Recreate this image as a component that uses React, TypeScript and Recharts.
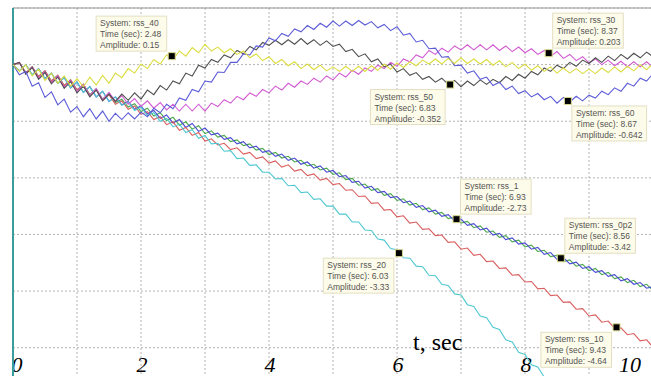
import { LineChart, Line, XAxis, YAxis, CartesianGrid, ReferenceLine, ReferenceDot, Customized } from 'recharts';

// time axis, sec
const TIME = [
  0, 0.1, 0.2, 0.3, 0.4, 0.5, 0.6, 0.7, 0.8, 0.9,
  1, 1.1, 1.2, 1.3, 1.4, 1.5, 1.6, 1.7, 1.8, 1.9,
  2, 2.1, 2.2, 2.3, 2.4, 2.5, 2.6, 2.7, 2.8, 2.9,
  3, 3.1, 3.2, 3.3, 3.4, 3.5, 3.6, 3.7, 3.8, 3.9,
  4, 4.1, 4.2, 4.3, 4.4, 4.5, 4.6, 4.7, 4.8, 4.9,
  5, 5.1, 5.2, 5.3, 5.4, 5.5, 5.6, 5.7, 5.8, 5.9,
  6, 6.1, 6.2, 6.3, 6.4, 6.5, 6.6, 6.7, 6.8, 6.9,
  7, 7.1, 7.2, 7.3, 7.4, 7.5, 7.6, 7.7, 7.8, 7.9,
  8, 8.1, 8.2, 8.3, 8.4, 8.5, 8.6, 8.7, 8.8, 8.9,
  9, 9.1, 9.2, 9.3, 9.4, 9.5, 9.6, 9.7, 9.8, 9.9,
  10,
];

const RSS_40 = [
  0, -0.12, 0.00, -0.20, -0.08, -0.28, -0.15, -0.33, -0.20, -0.38,
  -0.25, -0.39, -0.22, -0.36, -0.19, -0.33, -0.15, -0.23, -0.07, -0.15,
  0.01, -0.07, 0.09, 0.01, 0.17, 0.09, 0.24, 0.15, 0.30, 0.21,
  0.36, 0.24, 0.31, 0.21, 0.28, 0.18, 0.24, 0.12, 0.19, 0.07,
  0.14, 0.02, 0.09, -0.02, 0.05, -0.07, 0.01, -0.09, -0.01, -0.11,
  -0.04, -0.12, -0.03, -0.12, -0.03, -0.12, -0.02, -0.10, 0.01, -0.08,
  0.03, -0.05, 0.05, -0.02, 0.08, 0.01, 0.10, 0.01, 0.11, 0.02,
  0.12, 0.02, 0.10, 0.01, 0.09, -0.01, 0.07, -0.04, 0.04, -0.07,
  0.01, -0.10, -0.02, -0.12, -0.04, -0.15, -0.06, -0.15, -0.07, -0.16,
  -0.08, -0.16, -0.06, -0.14, -0.04, -0.13, -0.03, -0.11, 0.00, -0.09,
  0.02,
];

const RSS_50 = [
  0, 0.04, -0.17, -0.05, -0.26, -0.14, -0.34, -0.22, -0.42, -0.30,
  -0.50, -0.38, -0.57, -0.45, -0.64, -0.52, -0.65, -0.52, -0.63, -0.50,
  -0.61, -0.45, -0.53, -0.37, -0.45, -0.29, -0.34, -0.15, -0.20, -0.01,
  -0.06, 0.09, 0.04, 0.17, 0.12, 0.25, 0.19, 0.32, 0.26, 0.39,
  0.34, 0.43, 0.35, 0.44, 0.36, 0.46, 0.36, 0.44, 0.34, 0.42,
  0.32, 0.36, 0.23, 0.27, 0.14, 0.19, 0.05, 0.10, -0.04, 0.01,
  -0.13, -0.07, -0.19, -0.14, -0.26, -0.21, -0.31, -0.24, -0.35, -0.28,
  -0.39, -0.29, -0.37, -0.27, -0.35, -0.26, -0.32, -0.21, -0.28, -0.17,
  -0.24, -0.12, -0.18, -0.06, -0.12, -0.01, -0.07, 0.04, -0.03, 0.08,
  0.02, 0.12, 0.04, 0.15, 0.07, 0.18, 0.10, 0.20, 0.12, 0.22,
  0.14,
];

const RSS_60 = [
  0, -0.18, -0.12, -0.38, -0.32, -0.58, -0.48, -0.71, -0.61, -0.84,
  -0.74, -0.92, -0.78, -0.96, -0.82, -1.00, -0.86, -0.97, -0.85, -0.96,
  -0.84, -0.92, -0.77, -0.85, -0.70, -0.78, -0.59, -0.63, -0.44, -0.48,
  -0.29, -0.31, -0.13, -0.14, 0.04, 0.04, 0.19, 0.17, 0.33, 0.31,
  0.47, 0.42, 0.55, 0.50, 0.63, 0.58, 0.69, 0.62, 0.73, 0.66,
  0.77, 0.68, 0.77, 0.69, 0.78, 0.70, 0.76, 0.65, 0.71, 0.60,
  0.67, 0.52, 0.55, 0.40, 0.43, 0.28, 0.29, 0.13, 0.14, -0.02,
  -0.01, -0.15, -0.11, -0.26, -0.22, -0.37, -0.31, -0.44, -0.38, -0.51,
  -0.46, -0.57, -0.51, -0.62, -0.56, -0.68, -0.58, -0.66, -0.56, -0.64,
  -0.54, -0.59, -0.47, -0.53, -0.41, -0.47, -0.33, -0.38, -0.24, -0.29,
  -0.16,
];

const RSS_30 = [
  0, 0.04, -0.16, -0.04, -0.24, -0.12, -0.32, -0.20, -0.40, -0.28,
  -0.48, -0.35, -0.55, -0.42, -0.62, -0.49, -0.65, -0.55, -0.70, -0.60,
  -0.74, -0.64, -0.77, -0.67, -0.80, -0.70, -0.82, -0.70, -0.82, -0.70,
  -0.82, -0.68, -0.74, -0.62, -0.68, -0.56, -0.62, -0.50, -0.56, -0.44,
  -0.50, -0.38, -0.45, -0.33, -0.40, -0.29, -0.35, -0.24, -0.31, -0.20,
  -0.27, -0.15, -0.22, -0.10, -0.17, -0.06, -0.12, -0.01, -0.07, 0.04,
  -0.03, 0.10, 0.05, 0.17, 0.12, 0.25, 0.18, 0.29, 0.22, 0.33,
  0.26, 0.35, 0.26, 0.35, 0.26, 0.35, 0.25, 0.33, 0.23, 0.31,
  0.21, 0.28, 0.18, 0.25, 0.15, 0.23, 0.11, 0.18, 0.07, 0.14,
  0.03, 0.10, 0.00, 0.08, -0.02, 0.06, -0.04, 0.05, -0.04, 0.05,
  -0.05,
];

const RSS_20 = [
  0, -0.11, 0.00, -0.18, -0.07, -0.25, -0.15, -0.33, -0.23, -0.41,
  -0.31, -0.49, -0.39, -0.57, -0.47, -0.65, -0.57, -0.72, -0.66, -0.81,
  -0.75, -0.90, -0.85, -1.00, -0.95, -1.10, -1.05, -1.20, -1.15, -1.30,
  -1.25, -1.40, -1.39, -1.53, -1.52, -1.66, -1.65, -1.78, -1.77, -1.90,
  -1.90, -2.02, -2.01, -2.14, -2.13, -2.26, -2.25, -2.38, -2.37, -2.50,
  -2.50, -2.64, -2.64, -2.78, -2.78, -2.92, -2.93, -3.08, -3.10, -3.25,
  -3.27, -3.41, -3.42, -3.56, -3.57, -3.72, -3.73, -3.88, -3.90, -4.05,
  -4.07, -4.24, -4.27, -4.44, -4.47, -4.64, -4.68, -4.86, -4.90, -5.08,
  -5.12, -5.30, -5.34, -5.52, -5.56, -5.74,
];

const RSS_10 = [
  0, 0.03, -0.14, -0.04, -0.21, -0.11, -0.29, -0.19, -0.37, -0.27,
  -0.45, -0.35, -0.54, -0.44, -0.63, -0.53, -0.70, -0.64, -0.79, -0.73,
  -0.88, -0.83, -0.97, -0.92, -1.06, -1.01, -1.16, -1.11, -1.25, -1.20,
  -1.35, -1.31, -1.42, -1.39, -1.50, -1.47, -1.58, -1.55, -1.66, -1.63,
  -1.74, -1.70, -1.81, -1.77, -1.88, -1.85, -1.96, -1.93, -2.04, -2.01,
  -2.12, -2.10, -2.22, -2.21, -2.33, -2.32, -2.45, -2.44, -2.57, -2.56,
  -2.69, -2.67, -2.80, -2.78, -2.91, -2.90, -3.02, -3.01, -3.14, -3.13,
  -3.26, -3.24, -3.37, -3.35, -3.48, -3.47, -3.60, -3.59, -3.72, -3.71,
  -3.84, -3.83, -3.96, -3.95, -4.08, -4.07, -4.20, -4.19, -4.32, -4.31,
  -4.44, -4.42, -4.55, -4.53, -4.66, -4.65, -4.77, -4.75, -4.88, -4.86,
  -4.99,
];

const RSS_0P2 = [
  0, -0.11, 0.00, -0.18, -0.07, -0.25, -0.15, -0.33, -0.23, -0.41,
  -0.31, -0.49, -0.39, -0.57, -0.47, -0.65, -0.57, -0.71, -0.65, -0.79,
  -0.73, -0.87, -0.81, -0.95, -0.89, -1.03, -0.97, -1.11, -1.04, -1.18,
  -1.12, -1.24, -1.21, -1.32, -1.29, -1.40, -1.36, -1.47, -1.44, -1.55,
  -1.52, -1.62, -1.58, -1.69, -1.65, -1.76, -1.72, -1.83, -1.79, -1.90,
  -1.87, -1.98, -1.96, -2.08, -2.06, -2.18, -2.15, -2.26, -2.24, -2.35,
  -2.33, -2.44, -2.41, -2.52, -2.49, -2.60, -2.57, -2.68, -2.65, -2.76,
  -2.73, -2.84, -2.81, -2.92, -2.89, -3.01, -2.98, -3.09, -3.06, -3.17,
  -3.15, -3.26, -3.23, -3.35, -3.32, -3.44, -3.41, -3.52, -3.49, -3.60,
  -3.57, -3.67, -3.64, -3.74, -3.71, -3.82, -3.78, -3.88, -3.85, -3.95,
  -3.92,
];

const RSS_1 = [
  0, 0.03, -0.14, -0.04, -0.21, -0.11, -0.29, -0.19, -0.37, -0.27,
  -0.45, -0.35, -0.53, -0.43, -0.61, -0.51, -0.67, -0.61, -0.75, -0.69,
  -0.83, -0.77, -0.91, -0.85, -0.99, -0.93, -1.07, -1.01, -1.14, -1.08,
  -1.22, -1.17, -1.28, -1.25, -1.36, -1.33, -1.43, -1.40, -1.51, -1.48,
  -1.59, -1.55, -1.65, -1.62, -1.72, -1.69, -1.79, -1.76, -1.86, -1.83,
  -1.94, -1.91, -2.03, -2.01, -2.13, -2.11, -2.22, -2.19, -2.31, -2.28,
  -2.40, -2.37, -2.48, -2.45, -2.56, -2.53, -2.64, -2.61, -2.72, -2.69,
  -2.80, -2.77, -2.88, -2.85, -2.96, -2.94, -3.05, -3.02, -3.13, -3.10,
  -3.22, -3.19, -3.30, -3.28, -3.39, -3.37, -3.48, -3.45, -3.56, -3.53,
  -3.64, -3.60, -3.71, -3.67, -3.78, -3.75, -3.85, -3.81, -3.92, -3.88,
  -3.99,
];

// data tips
const TIP_SYSTEMS = ['rss_40', 'rss_30', 'rss_50', 'rss_60', 'rss_1', 'rss_0p2', 'rss_20', 'rss_10'];
const TIP_TIMES = [2.48, 8.37, 6.83, 8.67, 6.93, 8.56, 6.03, 9.43];
const TIP_AMPS = [0.15, 0.203, -0.352, -0.642, -2.73, -3.42, -3.33, -4.64];

const X_TICKS = [0, 1, 2, 3, 4, 5, 6, 7, 8, 9, 10];
const X_LABELS = [0, 2, 4, 6, 8, 10];
const Y_TICKS = [1, 0, -1, -2, -3, -4, -5];

// where each tip box sits relative to its marker (u/d, l/r)
const TIP_PLACE = ['ul', 'ur', 'dl', 'dr', 'ur', 'ur', 'dl', 'dl'];

const SERIES = [
  { key: 'rss_1', color: '#4aa84a' },
  { key: 'rss_0p2', color: '#4a4ad4' },
  { key: 'rss_10', color: '#da5e5e' },
  { key: 'rss_20', color: '#4ec8d0' },
  { key: 'rss_30', color: '#d25ad2' },
  { key: 'rss_50', color: '#505050' },
  { key: 'rss_60', color: '#5c5cd8' },
  { key: 'rss_40', color: '#dcdc40' },
];

const data = TIME.map((t, i) => ({
  t,
  rss_0p2: RSS_0P2[i],
  rss_1: RSS_1[i],
  rss_10: RSS_10[i],
  rss_20: RSS_20[i],
  rss_30: RSS_30[i],
  rss_40: RSS_40[i],
  rss_50: RSS_50[i],
  rss_60: RSS_60[i],
}));

const Tip = ({ cx, cy, i }: any) => {
  if (cx == null || cy == null) return <g />;
  const lines = [`System: ${TIP_SYSTEMS[i]}`, `Time (sec): ${TIP_TIMES[i]}`, `Amplitude: ${TIP_AMPS[i]}`];
  const w = Math.max(...lines.map((l) => l.length)) * 4.1 + 5;
  const h = 35;
  const place = TIP_PLACE[i];
  const bx = place[1] === 'l' ? cx - 5 - w : cx + 4;
  const by = place[0] === 'u' ? cy - 5 - h : cy + 5;
  return (
    <g>
      <rect x={bx} y={by} width={w} height={h} fill="#fdfbe9" stroke="#e4dfc2" strokeWidth={1} />
      {lines.map((l, k) => (
        <text key={k} x={bx + 4} y={by + 10 + k * 11} fontSize={8.5} fontFamily="Liberation Sans, Arial, sans-serif" fill="#555">
          {l}
        </text>
      ))}
      <rect x={cx - 3.5} y={cy - 3.5} width={7} height={7} fill="#000" stroke="#d8d890" strokeWidth={1} />
    </g>
  );
};

// axis numbers and the "t, sec" title, placed with the chart's own x scale
const AxisText = (props: any) => {
  const xAxis = props.xAxisMap ? (Object.values(props.xAxisMap)[0] as any) : null;
  const scale = xAxis && xAxis.scale;
  const off = props.offset || { left: 13, width: 640 };
  const px = (v: number) => (scale ? scale(v) : off.left + (v / 10) * off.width);
  return (
    <g>
      {X_LABELS.map((v) => {
        const x = px(v);
        const tx = v === 0 ? x + 4 : v === 10 ? Math.min(x, 630) : x + 1;
        return (
          <text key={v} x={tx} y={372} textAnchor="middle" fontFamily="Liberation Serif, Times New Roman, serif" fontStyle="italic" fontSize={22} fill="#000">
            {v}
          </text>
        );
      })}
      <text x={413} y={350} fontFamily="Liberation Serif, Times New Roman, serif" fontSize={24} fill="#000">
        t, sec
      </text>
    </g>
  );
};

export default function App() {
  return (
    <div style={{ position: 'absolute', left: 0, top: 0, width: 651, height: 378, overflow: 'hidden', background: '#fff' }}>
      <LineChart width={653} height={378} data={data} margin={{ top: 8, right: 0, left: 13, bottom: 2 }}>
        <CartesianGrid
          stroke="#b4b4b4"
          strokeDasharray="2 2"
          horizontalCoordinatesGenerator={({ offset }: any) => Y_TICKS.map((v) => offset.top + ((1 - v) / 6.5) * offset.height)}
          verticalCoordinatesGenerator={({ offset }: any) => X_TICKS.filter((v) => v > 0).map((v) => offset.left + (v / 10) * offset.width)}
        />
        <XAxis dataKey="t" type="number" domain={[0, 10]} ticks={X_TICKS} hide />
        <YAxis type="number" domain={[-5.5, 1]} ticks={Y_TICKS} allowDataOverflow hide />
        <ReferenceLine y={1} stroke="#9a9a9a" strokeWidth={1} />
        <ReferenceLine x={0} stroke="#3c9c9c" strokeWidth={2} />
        {SERIES.map((s) => (
          <Line
            key={s.key}
            type="linear"
            dataKey={s.key}
            stroke={s.color}
            strokeWidth={1.1}
            dot={false}
            isAnimationActive={false}
          />
        ))}
        {TIP_SYSTEMS.map((name, i) => (
          <ReferenceDot
            key={name}
            x={TIP_TIMES[i]}
            y={TIP_AMPS[i]}
            r={4}
            shape={(p: any) => <Tip {...p} i={i} />}
          />
        ))}
        <Customized component={AxisText} />
      </LineChart>
    </div>
  );
}
